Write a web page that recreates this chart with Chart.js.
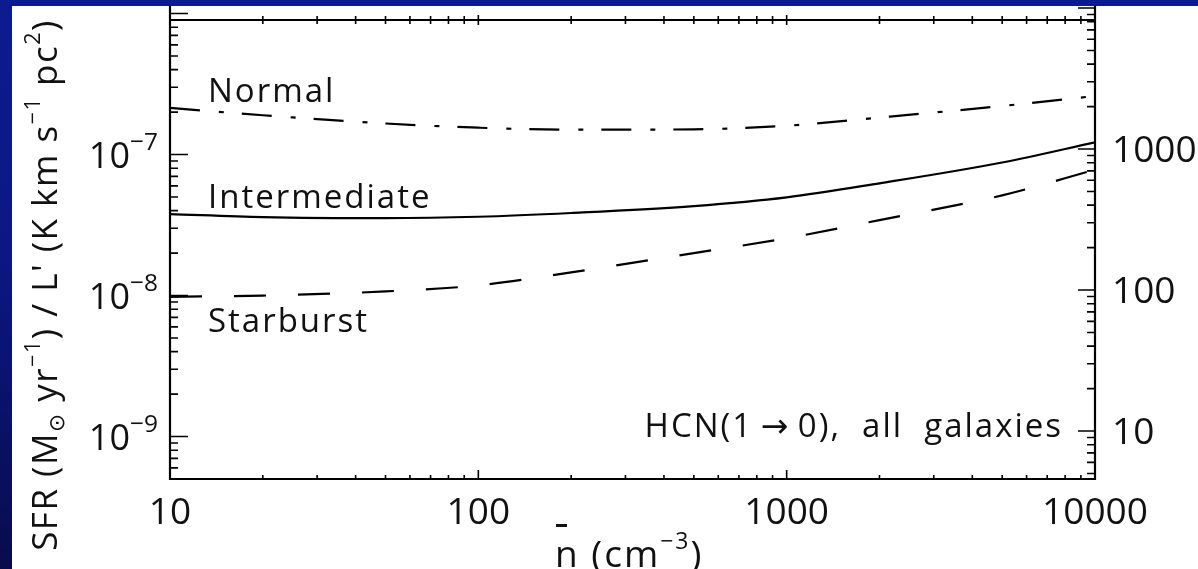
<!DOCTYPE html>
<html>
<head>
<meta charset="utf-8">
<script src="https://cdn.jsdelivr.net/npm/chart.js@4.4.1/dist/chart.umd.min.js"></script>
<style>
  html, body {
    margin: 0;
    padding: 0;
    width: 1198px;
    height: 569px;
    overflow: hidden;
    background: linear-gradient(to bottom, #0c1b90 0%, #0b1784 45%, #080c4c 100%);
  }
  #panel {
    position: absolute;
    left: 12px;
    top: 6px;
    width: 1186px;
    height: 563px;
    background: #fff;
  }
</style>
</head>
<body>
<div id="panel"><canvas id="sfrChart" width="1186" height="563"></canvas></div>
<script>
// mean density n (cm^-3)
const densities = [10, 20, 50, 100, 200, 500, 1000, 2000, 5000, 10000];
// SFR / L'(HCN) for the three galaxy types
const normal = [2.14e-7, 1.9e-7, 1.66e-7, 1.55e-7, 1.5e-7, 1.51e-7, 1.6e-7, 1.83e-7, 2.21e-7, 2.6e-7];
const intermediate = [3.78e-8, 3.6e-8, 3.54e-8, 3.62e-8, 3.85e-8, 4.31e-8, 4.97e-8, 6.25e-8, 8.78e-8, 1.22e-7];
const starburst = [9.8e-9, 1.0e-8, 1.07e-8, 1.18e-8, 1.46e-8, 2.0e-8, 2.55e-8, 3.43e-8, 5.14e-8, 7.8e-8];

const seriesNames = ["Normal", "Intermediate", "Starburst"];
const xTickValues = [10, 100, 1000, 10000];
const xTickLabels = ["10", "100", "1000", "10000"];
const yTickExponents = [-9, -8, -7];
const rightTickValues = [10, 100, 1000];
const rightTickLabels = ["10", "100", "1000"];
const yRange = [5e-10, 9e-7];
const rightFactor = 9.14e9; // right axis = left axis * factor
const noteText = "HCN(1\u2009\u2192\u20090),  all  galaxies";

const FAM = '"Open Sans", "DejaVu Sans", sans-serif';

function richWidth(ctx, parts, size, supScale) {
  let w = 0;
  parts.forEach((p) => {
    ctx.font = (p.s ? size * supScale : size) + "px " + FAM;
    w += ctx.measureText(p.t).width;
  });
  return w;
}

function drawRich(ctx, parts, x, y, size, align, supScale = 0.62) {
  const w = richWidth(ctx, parts, size, supScale);
  let cx = align === "center" ? x - w / 2 : align === "right" ? x - w : x;
  ctx.textAlign = "left";
  ctx.textBaseline = "alphabetic";
  parts.forEach((p) => {
    ctx.font = (p.s ? size * supScale : size) + "px " + FAM;
    const dy = p.s === 1 ? -size * 0.5 : p.s === -1 ? size * 0.2 : 0;
    ctx.fillText(p.t, cx, y + dy);
    cx += ctx.measureText(p.t).width;
  });
}

const axesPlugin = {
  id: "idlAxes",
  afterDraw(chart) {
    const { ctx, chartArea: a, scales } = chart;
    const x = scales.x, y = scales.y, y2 = scales.y2;
    ctx.save();
    ctx.strokeStyle = "#000";
    ctx.fillStyle = "#111";

    // frame
    ctx.lineWidth = 2.2;
    ctx.beginPath();
    ctx.moveTo(a.left, 0);
    ctx.lineTo(a.left, a.bottom);
    ctx.lineTo(a.right, a.bottom);
    ctx.lineTo(a.right, 0);
    ctx.moveTo(a.left, a.top);
    ctx.lineTo(a.right, a.top);
    ctx.stroke();

    // x ticks, bottom inward and top crossing
    ctx.lineWidth = 1.6;
    ctx.beginPath();
    for (let e = 1; e <= 4; e++) {
      for (let m = 1; m <= 9; m++) {
        const v = m * Math.pow(10, e);
        if (v > 10000) break;
        const px = x.getPixelForValue(v);
        const major = m === 1;
        ctx.moveTo(px, a.bottom);
        ctx.lineTo(px, a.bottom - (major ? 9 : 4));
        ctx.moveTo(px, a.top - (major ? 5 : 4));
        ctx.lineTo(px, a.top + (major ? 5 : 4));
      }
    }
    // left y ticks
    for (let e = -10; e <= -6; e++) {
      for (let m = 1; m <= 9; m++) {
        const py = y.getPixelForValue(m * Math.pow(10, e));
        if (py < 0 || py > a.bottom + 0.5) continue;
        ctx.moveTo(a.left, py);
        ctx.lineTo(a.left + (m === 1 ? 18 : 8), py);
      }
    }
    // right y ticks
    for (let e = 0; e <= 4; e++) {
      for (let m = 1; m <= 9; m++) {
        const py = y2.getPixelForValue(m * Math.pow(10, e));
        if (py < 0 || py > a.bottom + 0.5) continue;
        ctx.moveTo(a.right, py);
        ctx.lineTo(a.right - (m === 1 ? 17 : 8), py);
      }
    }
    ctx.stroke();

    // tick labels
    ctx.textBaseline = "alphabetic";
    ctx.font = "37px " + FAM;
    ctx.textAlign = "center";
    xTickValues.forEach((v, i) => {
      ctx.fillText(xTickLabels[i], x.getPixelForValue(v), a.bottom + 45);
    });
    yTickExponents.forEach((e) => {
      const py = y.getPixelForValue(Math.pow(10, e));
      drawRich(ctx, [{ t: "10" }, { t: "\u2212" + Math.abs(e), s: 1 }], a.left - 12, py + 13, 36, "right", 0.68);
    });
    ctx.font = "37px " + FAM;
    ctx.textAlign = "left";
    rightTickValues.forEach((v, i) => {
      ctx.fillText(rightTickLabels[i], a.right + 17, y2.getPixelForValue(v) + 13);
    });

    // curve labels
    ctx.font = "33px " + FAM;
    ctx.letterSpacing = "2px";
    ctx.fillText(seriesNames[0], a.left + 38, a.top + 82);
    ctx.fillText(seriesNames[1], a.left + 38, a.top + 188);
    ctx.fillText(seriesNames[2], a.left + 38, a.top + 312);
    ctx.textAlign = "right";
    ctx.fillText(noteText, a.right - 32, a.bottom - 42);

    // x title
    ctx.letterSpacing = "2px";
    const nx = 543, ny = 561;
    ctx.font = "37px " + FAM;
    ctx.textAlign = "left";
    ctx.fillText("n", nx, ny);
    ctx.fillRect(nx + 1, ny - 43, 11, 3);
    const nw = ctx.measureText("n").width;
    drawRich(ctx, [{ t: " (cm" }, { t: "\u22123", s: 1 }, { t: ")" }], nx + nw, ny, 37, "left");

    // y title, rotated
    ctx.save();
    ctx.translate(45, 279);
    ctx.rotate(-Math.PI / 2);
    ctx.letterSpacing = "1.5px";
    drawRich(ctx, [
      { t: "SFR (M" }, { t: "\u2299", s: -1 }, { t: " yr" }, { t: "\u22121", s: 1 },
      { t: ") / L' (K km s" }, { t: "\u22121", s: 1 }, { t: " pc" }, { t: "2", s: 1 }, { t: ")" }
    ], 0, 0, 35, "center");
    ctx.restore();

    ctx.restore();
  },
};

const toPoints = (vals) => densities.map((d, i) => ({ x: d, y: vals[i] }));

const lineStyle = {
  borderColor: "#000",
  borderWidth: 2.2,
  pointRadius: 0,
  fill: false,
  cubicInterpolationMode: "monotone",
};

new Chart(document.getElementById("sfrChart").getContext("2d"), {
  type: "line",
  data: {
    datasets: [
      { label: seriesNames[0], data: toPoints(normal), borderDash: [30, 19, 5, 18], ...lineStyle },
      { label: seriesNames[1], data: toPoints(intermediate), ...lineStyle },
      { label: seriesNames[2], data: toPoints(starburst), borderDash: [32, 32], ...lineStyle },
    ],
  },
  options: {
    responsive: false,
    animation: false,
    devicePixelRatio: 1,
    layout: { padding: { left: 158, right: 103, top: 14, bottom: 90 } },
    plugins: { legend: { display: false }, tooltip: { enabled: false } },
    scales: {
      x: { type: "logarithmic", min: 10, max: 10000, display: false },
      y: { type: "logarithmic", min: yRange[0], max: yRange[1], display: false },
      y2: {
        type: "logarithmic",
        position: "right",
        min: yRange[0] * rightFactor,
        max: yRange[1] * rightFactor,
        display: false,
      },
    },
  },
  plugins: [axesPlugin],
});
</script>
</body>
</html>
